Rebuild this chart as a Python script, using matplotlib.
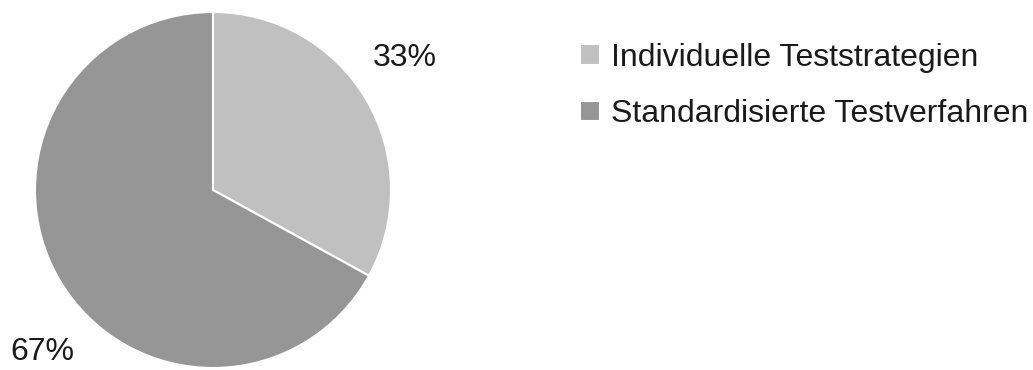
import matplotlib.pyplot as plt

labels = ["Individuelle Teststrategien", "Standardisierte Testverfahren"]
values = [33, 67]
colors = ["#c0c0c0", "#969696"]

plt.rcParams["font.family"] = ["Liberation Sans", "DejaVu Sans"]

fig = plt.figure(figsize=(10.33, 3.7), dpi=100)
# pie: center ~ (213, 190) px, radius ~178 px
r_px = 178
ax = fig.add_axes([(213 - r_px) / 1033, (370 - 190 - r_px) / 370,
                   2 * r_px / 1033, 2 * r_px / 370])
wedges, _ = ax.pie(values, colors=colors, startangle=90, counterclock=False,
                   radius=1, wedgeprops=dict(edgecolor="white", linewidth=1.5))
ax.set_xlim(-1, 1)
ax.set_ylim(-1, 1)
ax.set_aspect("equal")
ax.axis("off")

ax.text(1.08, 0.74, f"{values[0]}%", fontsize=23, ha="center", va="center",
        color="#1a1a1a", clip_on=False)
ax.text(-0.96, -0.91, f"{values[1]}%", fontsize=23, ha="center", va="center",
        color="#1a1a1a", clip_on=False)

fig.legend(wedges, labels, loc="upper left", bbox_to_anchor=(580 / 1033, 1 - 43 / 370),
           frameon=False, fontsize=23, handlelength=0.63, handleheight=0.63,
           handletextpad=0.34, labelspacing=0.82, borderpad=0, borderaxespad=0,
           labelcolor="#1a1a1a")

fig.savefig("out.png", dpi=100)
